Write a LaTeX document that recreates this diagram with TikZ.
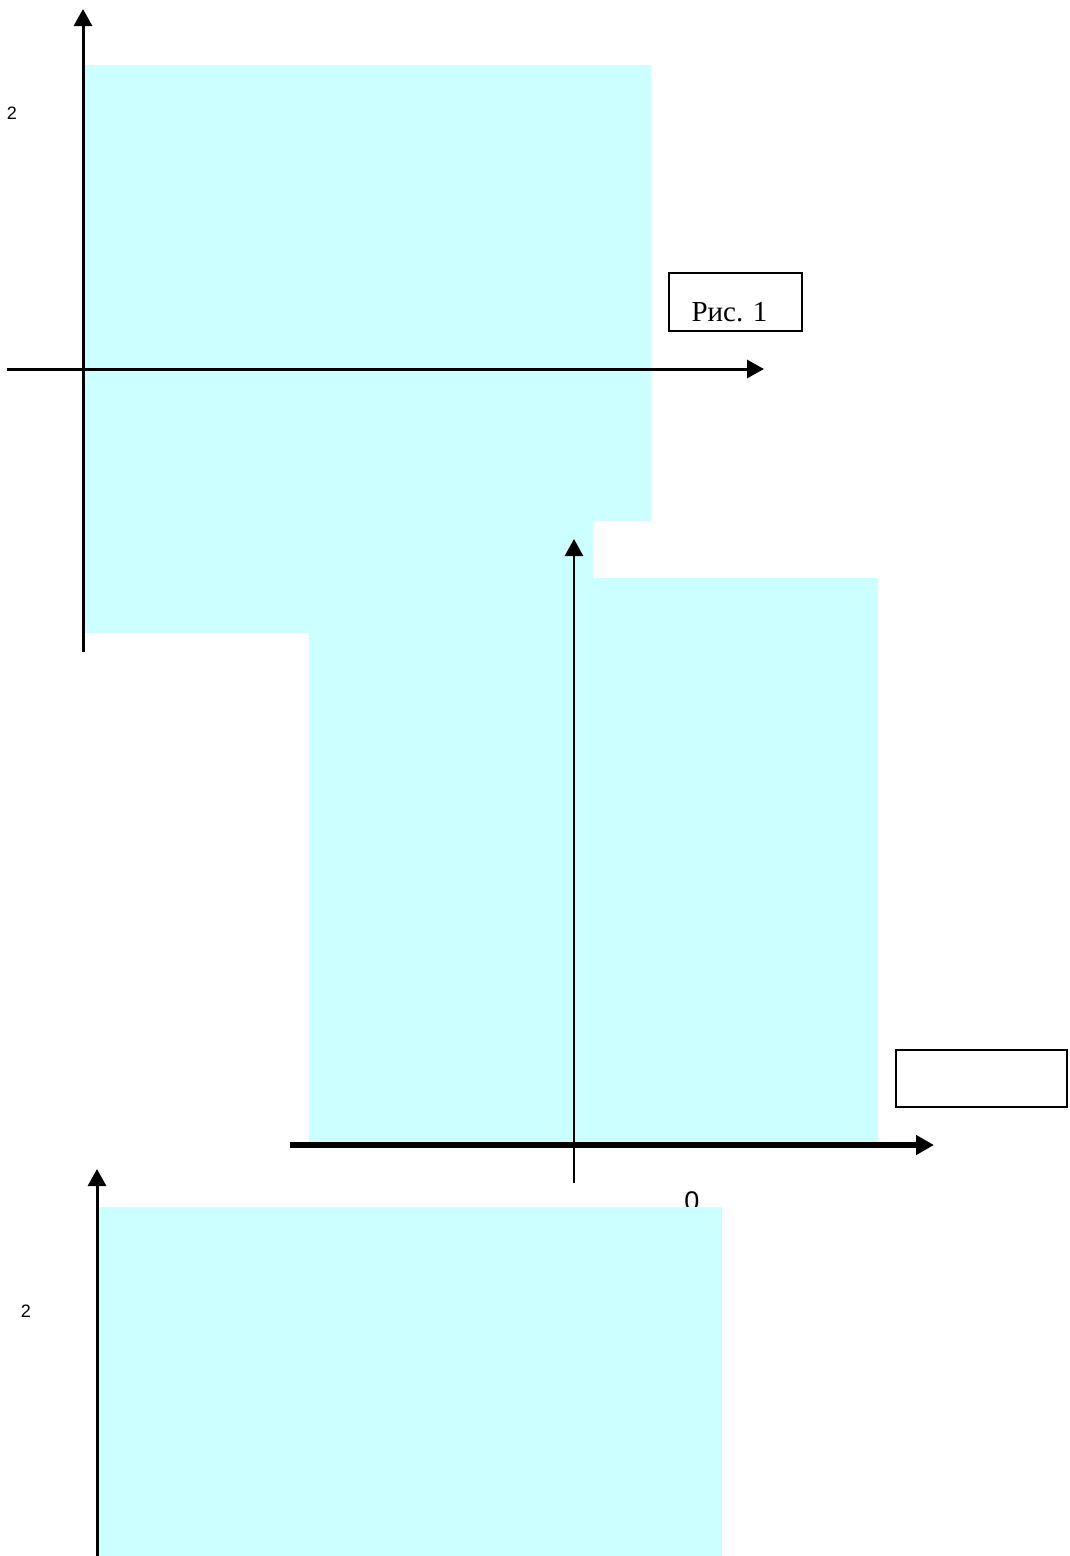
\documentclass[tikz,border=0pt]{standalone}
\usepackage{fontspec}
\setmainfont{Liberation Serif}
\newfontfamily\arialfont{Liberation Sans}
\usetikzlibrary{arrows.meta}
\definecolor{areacyan}{HTML}{CCFFFF}
\begin{document}
\begin{tikzpicture}[x=1pt,y=-1pt,
  area/.style={fill=areacyan,draw=none},
  axisline/.style={line width=3pt,-{Triangle[length=17pt,width=18pt]}},
  thickaxis/.style={line width=6pt,-{Triangle[length=18pt,width=19pt]}},
  framebox/.style={draw,line width=1.5pt,inner sep=0pt},
  smalllab/.style={font=\arialfont\fontsize{18}{18}\selectfont,inner sep=0pt},
  zerolab/.style={font=\arialfont\fontsize{27}{27}\selectfont,inner sep=0pt}
]
\useasboundingbox (0,0) rectangle (1070,1556);
% shaded regions
\fill[area] (84,65) -- (651,65) -- (651,521) -- (593,521) -- (593,578)
  -- (878,578) -- (878,1143) -- (309,1143) -- (309,633) -- (84,633) -- cycle;
% zero label (partly covered by the lower region)
\node[zerolab] (zero) at (692,1201) {0};
\fill[area] (97,1207) rectangle (722,1556);
% coordinates for axes
\coordinate (a1bot) at (83,652);
\coordinate (a1top) at (83,9);
\coordinate (a1left) at (7,369);
\coordinate (a1right) at (764,369);
\coordinate (a2bot) at (574,1183);
\coordinate (a2mid) at (574,1164);
\coordinate (a2top) at (574,539);
\coordinate (a2left) at (290,1145);
\coordinate (a2right) at (934,1145);
\coordinate (a3bot) at (97,1560);
\coordinate (a3top) at (97,1169);
% axes
\draw[axisline] (a1bot) -- (a1top);
\draw[axisline] (a1left) -- (a1right);
\draw[line width=1.3pt] (a2bot) -- (a2mid);
\draw[axisline,line width=2.8pt] (a2mid) -- (a2top);
\draw[thickaxis] (a2left) -- (a2right);
\draw[axisline] (a3bot) -- (a3top);
% labels
\node[smalllab] (two1) at (12,113) {2};
\node[smalllab] (two2) at (26,1311) {2};
% boxes
\node[framebox,minimum width=133pt,minimum height=58pt,font=\fontsize{29}{29}\selectfont]
  (fig1) at (735.5,302) {\kern-12pt\raisebox{-10pt}[\height][\depth]{Рис. 1}};
\node[framebox,minimum width=171pt,minimum height=57pt] (blank) at (981.5,1078.5) {};
\end{tikzpicture}
\end{document}
